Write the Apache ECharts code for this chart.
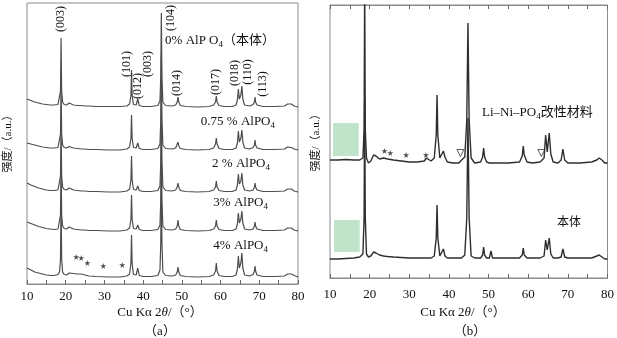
<!DOCTYPE html>
<html><head><meta charset="utf-8">
<script src="https://cdn.jsdelivr.net/npm/echarts/dist/echarts.min.js"></script>
<style>html,body{margin:0;padding:0;background:#fff}#c{width:617px;height:338px}</style>
</head><body><div id="c"></div>
<script>
// ---------- Panel (a): 2θ grid and intensities (a.u., relative to each trace baseline) ----------
const twoThetaA = [
  10, 11, 12, 13, 14, 15, 16, 17, 18, 18.4,
  18.65, 18.8, 18.95, 19.2, 19.6, 20.2, 20.9, 21.4, 22, 23,
  24, 25, 26, 28, 31, 34, 35.8, 36.5, 36.85, 37.0,
  37.15, 37.5, 38.2, 38.6, 39.0, 40, 42, 43.8, 44.35, 44.55,
  44.7, 44.85, 45.1, 45.8, 47.5, 48.4, 48.8, 49.0, 49.2, 49.6,
  51, 54, 57, 58.2, 58.7, 58.9, 59.1, 59.6, 61, 63,
  64.0, 64.35, 64.6, 64.85, 65.05, 65.25, 65.5, 65.75, 66.2, 67.5,
  68.4, 68.75, 68.9, 69.05, 69.4, 71, 74, 76.5, 77.3, 77.7,
  78.3, 79, 80
];
const intA_0 = [
  8, 6.5, 5, 4, 3, 2.5, 2, 2, 2.5, 4,
  16, 69, 16, 5, 2.5, 2, 4, 3, 2, 1.5,
  1.5, 1, 1, 0.5, 0.5, 0.5, 1, 3, 12, 37,
  12, 2.5, 2, 8, 1.5, 0.5, 0.5, 1.5, 6, 30,
  94, 30, 5, 1.5, 1, 2, 5, 10, 5, 1.5,
  0.5, 0, 0.5, 2, 5, 11, 5, 1.5, 0.5, 0.5,
  2, 7, 18, 8, 7, 12, 21, 8, 2, 1,
  2.5, 5, 10, 5, 2, 0.5, 0.5, 1, 3, 4,
  3, 1, 0
];
const intA_075 = [
  7, 6, 5, 4, 3, 2.5, 2, 2, 2.5, 4,
  16, 70, 16, 5, 2.5, 2, 3.5, 3, 2, 1.5,
  1, 1, 0.5, 0.5, 0, 0, 1, 3, 12, 35,
  12, 2.5, 2, 7, 1.5, 0.5, 0.5, 1.5, 6, 30,
  95, 30, 5, 1.5, 1, 2, 4, 8, 4, 1.5,
  0.5, 0, 0.5, 2, 6, 12, 6, 1.5, 0.5, 0.5,
  2, 7, 19, 8, 7, 12, 20, 8, 2, 1,
  2.5, 5, 10, 5, 2, 0.5, 0.5, 1, 3, 3.5,
  2.5, 1, 0
];
const intA_2 = [
  9, 7, 5.5, 4, 3, 2, 1.5, 1.5, 2, 4,
  16, 72, 16, 5, 2.5, 2, 4, 3, 2, 1.5,
  1, 1, 0.5, 0.5, 0, 0, 1, 3, 12, 36,
  12, 2.5, 2, 6, 1.5, 0.5, 0.5, 1.5, 6, 30,
  95, 30, 5, 1.5, 1, 2, 5, 9, 5, 1.5,
  0.5, 0, 0.5, 2, 5, 11, 5, 1.5, 0.5, 0.5,
  2, 7, 18, 8, 7, 11, 19, 7, 2, 1,
  2, 5, 9, 5, 2, 0.5, 0.5, 1, 3, 3.5,
  3, 1, 0
];
const intA_3 = [
  9, 7.5, 6, 4.5, 3.5, 2.5, 2, 1.5, 2, 4,
  16, 72, 16, 5, 2.5, 2, 4, 3, 2, 1.5,
  1, 1, 0.5, 0.5, 0, 0, 1, 3, 12, 36,
  12, 2.5, 2, 6, 1.5, 0.5, 0.5, 1.5, 6, 30,
  96, 30, 5, 1.5, 1, 2, 5, 11, 5, 1.5,
  0.5, 0, 0.5, 2, 5, 11, 5, 1.5, 0.5, 0.5,
  2, 7, 18, 8, 7, 12, 20, 8, 2, 1,
  2, 5, 9, 5, 2, 0.5, 0.5, 1, 3, 3.5,
  3, 1, 0
];
const intA_4 = [
  9, 7, 5, 4, 3, 2, 1.5, 1.5, 2.5, 5,
  18, 80, 18, 5, 2.5, 2, 4, 3, 3.5, 3,
  3, 2, 1, 0.5, 0, 0, 1, 3, 14, 42,
  14, 2.5, 2, 9, 1.5, 0.5, 0.5, 1.5, 7, 34,
  98, 34, 5, 1.5, 1, 2, 5, 10, 5, 1.5,
  0.5, 0, 0.5, 2, 6, 14, 6, 1.5, 0.5, 0.5,
  2, 8, 21, 9, 8, 14, 24, 9, 2, 1,
  2.5, 6, 11, 6, 2, 0.5, 0.5, 1, 3, 4,
  3, 1.5, 0
];
const offsetsA = [177, 134, 92, 53, 7];           // stacking offsets (0%, 0.75%, 2%, 3%, 4%)
const starsA_x = [22.7, 24.0, 25.6, 29.7, 34.6];
const starsA_y = [27, 26, 21, 18, 19];

// ---------- Panel (b) ----------
const twoThetaB = [
  10, 12, 14, 16, 17.5, 18.3, 18.6, 18.75, 18.9, 19.2,
  19.7, 20.3, 21.0, 21.6, 22.5, 23.5, 24.5, 26, 28, 30,
  32, 33.8, 34.3, 34.8, 35.5, 36.3, 36.8, 37.0, 37.2, 37.7,
  38.2, 38.6, 39.0, 39.6, 41, 42.5, 43.2, 44.0, 44.5, 44.8,
  45.1, 45.6, 46.5, 48.0, 48.5, 48.75, 49.0, 49.5, 50.2, 50.6,
  51.0, 52, 55, 57.8, 58.5, 58.75, 59.0, 59.7, 61, 63,
  64.0, 64.4, 64.8, 65.0, 65.3, 65.7, 66.3, 67.5, 68.3, 68.75,
  69.2, 70, 73, 76, 77.3, 77.9, 78.6, 79.3, 80
];
const intB_mod = [
  0, 0, 0.5, 0, 0, 2, 30, 180, 30, 2,
  -3, -1, 5, 4, 1, 2, 1, 0, -1, -2,
  -2, -1, 2, 0, -1, 2, 25, 65, 25, 2,
  3, 9, 3, -2, -3, -3, 0, 3, 40, 137,
  40, 2, -3, -2, 3, 12, 3, -2, -3, -3,
  -3, -3, -3, -2, 4, 14, 5, -2, -3, -2,
  2, 25, 8, 10, 27, 6, -2, -3, 0, 11,
  0, -3, -3, -2, 0, 2, 0, -3, -3
];
const intB_bulk = [
  -1, -1, -0.5, 0, 1, 4, 40, 158, 40, 4,
  1, 2, 6, 5, 3, 2, 1.5, 1, 0.5, 0,
  0, 0, 0, 0, 0, 2, 20, 53, 20, 2,
  2, 9, 2, 0, 0, 0, 0, 3, 40, 140,
  40, 2, 0, 0, 3, 11, 3, 0, 0, 7,
  0, 0, 0, 0, 3, 10, 3, 0, 0, 0,
  2, 18, 8, 9, 20, 4, 0, 0, 1, 9,
  1, 0, 0, 0, 2, 3, 1, -1, -1
];
const offsetsB = [118, 20];                        // 改性材料, 本体
const starsB_x = [23.75, 25.2, 29.2, 34.2];
const starsB_y = [127, 125, 123, 123];
const triB_x = [42.9, 63.3];
const triB_y = [125, 125];
const patchB_x = [[10.75, 17.25], [11.0, 17.5]];
const patchB_y = [[122, 155], [26, 58]];

// ---------- build ----------
const SERIF = '"Liberation Serif","Noto Sans CJK SC",serif';
const chart = echarts.init(document.getElementById('c'));
function pts(xs, ys, off) { return xs.map((x, i) => [x, off + ys[i]]); }
function lineS(xi, yi, xs, ys, off, color, w, extra) {
  return Object.assign({
    type: 'line', xAxisIndex: xi, yAxisIndex: yi, data: pts(xs, ys, off),
    symbol: 'none', showSymbol: false, clip: true, animation: false,
    lineStyle: { color: color, width: w }, z: 3
  }, extra || {});
}
const STAR = 'path://M50,0 L61,35 L98,35 L68,57 L79,91 L50,70 L21,91 L32,57 L2,35 L39,35 Z';
const xBase = {
  type: 'value', min: 10, max: 80, interval: 10,
  axisLine: { show: true, lineStyle: { color: '#8c8c8c', width: 1 } },
  axisTick: { show: true, inside: true, length: 4, lineStyle: { color: '#666' } },
  minorTick: { show: true, splitNumber: 2, length: 4, lineStyle: { color: '#666' } },
  splitLine: { show: false }, minorSplitLine: { show: false },
  axisLabel: { fontSize: 13, color: '#111', fontFamily: SERIF }
};
const AC = '#4d4d4d', BC = '#2e2e2e';
const series = [
  lineS(0, 0, twoThetaA, intA_0, offsetsA[0], AC, 1.2),
  lineS(0, 0, twoThetaA, intA_075, offsetsA[1], AC, 1.2),
  lineS(0, 0, twoThetaA, intA_2, offsetsA[2], AC, 1.2),
  lineS(0, 0, twoThetaA, intA_3, offsetsA[3], AC, 1.2),
  lineS(0, 0, twoThetaA, intA_4, offsetsA[4], AC, 1.2),
  { type: 'scatter', xAxisIndex: 0, yAxisIndex: 0, symbol: STAR, symbolSize: 6,
    itemStyle: { color: '#222' }, data: starsA_x.map((x, i) => [x, starsA_y[i]]), animation: false },
  lineS(1, 1, twoThetaB, intB_mod, offsetsB[0], BC, 1.4, {
    markArea: { silent: true, itemStyle: { color: '#bfe4c9' },
      data: patchB_x.map((xr, i) => [{ coord: [xr[0], patchB_y[i][1]] }, { coord: [xr[1], patchB_y[i][0]] }]) }
  }),
  lineS(1, 1, twoThetaB, intB_bulk, offsetsB[1], BC, 1.4),
  { type: 'scatter', xAxisIndex: 1, yAxisIndex: 1, symbol: STAR, symbolSize: 6,
    itemStyle: { color: '#222' }, data: starsB_x.map((x, i) => [x, starsB_y[i]]), animation: false },
  { type: 'scatter', xAxisIndex: 1, yAxisIndex: 1, symbol: 'triangle', symbolRotate: 180, symbolSize: 7,
    itemStyle: { color: '#fff', borderColor: '#333', borderWidth: 1 }, data: triB_x.map((x, i) => [x, triB_y[i]]), animation: false }
];

function T(x, y, text, o) {
  o = o || {};
  return {
    type: 'text', x: x, y: y, rotation: o.rot || 0, z: 10,
    style: {
      text: text, fill: o.color || '#111', font: (o.italic ? 'italic ' : '') + (o.size || 13) + 'px ' + SERIF,
      fontSize: o.size || 13, fontFamily: SERIF,
      align: o.align || 'center', verticalAlign: 'middle', textAlign: o.align || 'center', textVerticalAlign: 'middle',
      rich: o.rich
    }
  };
}
const richSub = {
  n: { fontSize: 13, fontFamily: SERIF, lineHeight: 16, fill: '#111', color: '#111' },
  s: { fontSize: 9, fontFamily: SERIF, lineHeight: 8, verticalAlign: 'bottom', fill: '#111', color: '#111' }
};
const richTheta = {
  n: { fontSize: 13, fontFamily: SERIF, fill: '#111', color: '#111' },
  i: { fontSize: 13, fontFamily: SERIF, fontStyle: 'italic', fill: '#111', color: '#111' }
};
const R = Math.PI / 2;
const millerA = [
  ['(003)', 61, 19], ['(101)', 127, 64], ['(012)', 137.5, 86], ['(003)', 148, 64], ['(104)', 171, 18],
  ['(014)', 177, 83], ['(017)', 215.5, 82], ['(018)', 235, 73], ['(110)', 248, 72], ['(113)', 263, 84]
];
const graphics = millerA.map(m => T(m[1], m[2], m[0], { rot: R, size: 12 }));
graphics.push(
  T(275, 41, '{n|0% AlP O}{s|4}{n|（本体）}', { align: 'right', rich: richSub }),
  T(275, 122, '{n|0.75 % AlPO}{s|4}', { align: 'right', rich: richSub }),
  T(270, 164, '{n|2 % AlPO}{s|4}', { align: 'right', rich: richSub }),
  T(268, 203, '{n|3% AlPO}{s|4}', { align: 'right', rich: richSub }),
  T(268, 246, '{n|4% AlPO}{s|4}', { align: 'right', rich: richSub }),
  T(482, 113, '{n|Li–Ni–PO}{s|4}{n|改性材料}', { align: 'left', rich: richSub }),
  T(569, 223, '本体', { size: 12 }),
  T(8, 141, '强度/（a.u.）', { rot: R, size: 11 }),
  T(316, 140, '强度/（a.u.）', { rot: R, size: 11 }),
  T(160, 313, '{n|Cu Kα 2}{i|θ}{n|/（°）}', { rich: richTheta }),
  T(463, 313, '{n|Cu Kα 2}{i|θ}{n|/（°）}', { rich: richTheta }),
  T(160, 332, '（a）', { size: 13 }),
  T(470, 332, '（b）', { size: 13 })
);

chart.setOption({
  animation: false,
  backgroundColor: '#fff',
  grid: [
    { left: 27, top: 3, width: 271, height: 281, show: true, borderColor: '#8c8c8c', borderWidth: 1 },
    { left: 330, top: 5, width: 281, height: 273, show: true, borderColor: '#8c8c8c', borderWidth: 1 }
  ],
  xAxis: [
    Object.assign({}, xBase, { gridIndex: 0, axisLabel: Object.assign({}, xBase.axisLabel, { margin: 6 }) }),
    Object.assign({}, xBase, { gridIndex: 1, axisLabel: Object.assign({}, xBase.axisLabel, { margin: 10 }) }),
    Object.assign({}, xBase, { gridIndex: 1, position: 'top', axisLabel: { show: false } })
  ],
  yAxis: [
    { type: 'value', gridIndex: 0, min: 0, max: 281, show: false, splitLine: { show: false } },
    { type: 'value', gridIndex: 1, min: 0, max: 273, show: false, splitLine: { show: false } }
  ],
  series: series,
  graphic: graphics
});
</script></body></html>
